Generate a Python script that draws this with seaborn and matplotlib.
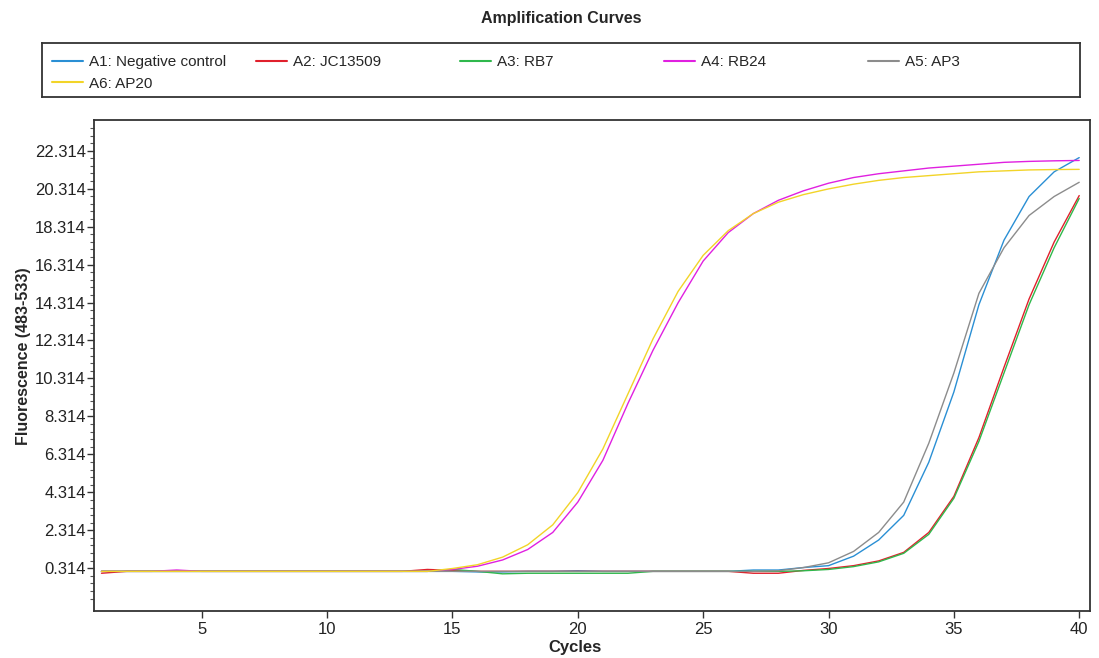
import numpy as np
import pandas as pd
import matplotlib
matplotlib.use("Agg")
import matplotlib.pyplot as plt
from matplotlib.lines import Line2D
from matplotlib.ticker import FixedLocator
import seaborn as sns

# cycles 1..40
cycles = list(range(1, 41))

a1_negative = [0.15, 0.15, 0.15, 0.15, 0.15, 0.15, 0.15, 0.15, 0.15, 0.15,
               0.15, 0.15, 0.15, 0.15, 0.15, 0.12, 0.12, 0.15, 0.15, 0.18,
               0.15, 0.15, 0.15, 0.15, 0.15, 0.15, 0.22, 0.22, 0.35, 0.45,
               0.95, 1.8, 3.1, 5.9, 9.6, 14.2, 17.6, 19.9, 21.2, 21.95]
a2_jc13509 = [0.05, 0.15, 0.15, 0.15, 0.15, 0.15, 0.15, 0.15, 0.15, 0.15,
              0.15, 0.15, 0.15, 0.25, 0.2, 0.15, 0.15, 0.15, 0.15, 0.15,
              0.15, 0.15, 0.15, 0.15, 0.15, 0.15, 0.05, 0.05, 0.2, 0.3,
              0.45, 0.7, 1.15, 2.2, 4.1, 7.2, 10.9, 14.5, 17.5, 19.95]
a3_rb7 = [0.15, 0.15, 0.15, 0.15, 0.15, 0.15, 0.15, 0.15, 0.15, 0.15,
          0.15, 0.15, 0.15, 0.15, 0.25, 0.15, 0.02, 0.05, 0.05, 0.05,
          0.05, 0.05, 0.15, 0.15, 0.15, 0.15, 0.15, 0.15, 0.18, 0.25,
          0.4, 0.65, 1.1, 2.1, 4.0, 7.0, 10.6, 14.2, 17.2, 19.8]
a4_rb24 = [0.15, 0.15, 0.15, 0.22, 0.15, 0.15, 0.15, 0.15, 0.15, 0.15,
           0.15, 0.15, 0.15, 0.15, 0.25, 0.42, 0.75, 1.3, 2.2, 3.8,
           6.0, 9.0, 11.8, 14.3, 16.5, 18.0, 19.0, 19.7, 20.2, 20.6,
           20.9, 21.1, 21.25, 21.4, 21.5, 21.6, 21.7, 21.75, 21.78, 21.8]
a5_ap3 = [0.15, 0.15, 0.15, 0.15, 0.15, 0.15, 0.15, 0.15, 0.15, 0.15,
          0.15, 0.15, 0.15, 0.15, 0.15, 0.15, 0.15, 0.15, 0.15, 0.15,
          0.15, 0.15, 0.15, 0.15, 0.15, 0.15, 0.15, 0.18, 0.35, 0.6,
          1.2, 2.2, 3.8, 6.9, 10.6, 14.8, 17.2, 18.9, 19.9, 20.65]
a6_ap20 = [0.15, 0.15, 0.15, 0.15, 0.15, 0.15, 0.15, 0.15, 0.15, 0.15,
           0.15, 0.15, 0.15, 0.15, 0.3, 0.5, 0.9, 1.55, 2.6, 4.3,
           6.6, 9.5, 12.4, 14.9, 16.8, 18.1, 19.0, 19.6, 20.0, 20.3,
           20.55, 20.75, 20.9, 21.0, 21.1, 21.2, 21.25, 21.3, 21.32, 21.33]

labels = ["A1: Negative control", "A2: JC13509", "A3: RB7",
          "A4: RB24", "A5: AP3", "A6: AP20"]
colors = ["#2a8fd4", "#e0202c", "#2fb84c", "#e020e0", "#8c8c8c", "#f2d428"]
series = [a1_negative, a2_jc13509, a3_rb7, a4_rb24, a5_ap3, a6_ap20]

y_ticks = [0.314 + 2 * i for i in range(12)]
x_ticks = [5, 10, 15, 20, 25, 30, 35, 40]

df = pd.concat([pd.DataFrame({"Cycles": cycles, "Fluorescence": s, "Sample": lab})
                for s, lab in zip(series, labels)], ignore_index=True)

sns.set_style("white")
plt.rcParams["font.family"] = ["Liberation Sans", "DejaVu Sans"]

fig = plt.figure(figsize=(10.99, 6.58), dpi=100)
ax = fig.add_axes([0.0855, 0.0714, 0.9063, 0.7462])

sns.lineplot(data=df, x="Cycles", y="Fluorescence", hue="Sample",
             palette=dict(zip(labels, colors)), hue_order=labels,
             linewidth=1.0, legend=False, ax=ax)

ax.set_xlim(0.7, 40.43)
ax.set_ylim(-1.94, 23.93)
ax.xaxis.set_major_locator(FixedLocator(x_ticks))
ax.yaxis.set_major_locator(FixedLocator(y_ticks))
ax.set_yticklabels([f"{v:.3f}" for v in y_ticks])
ax.yaxis.set_minor_locator(FixedLocator([0.314 + 0.4 * i for i in range(-4, 60)
                                         if 0.314 + 0.4 * i < 23.9]))
ax.tick_params(axis="both", which="major", direction="out", length=5, width=1,
               color="#333333", labelsize=12, labelcolor="#222222", pad=1,
               bottom=True, left=True)
ax.tick_params(axis="x", which="major", pad=3)
ax.tick_params(axis="y", which="minor", direction="out", length=3, width=0.8,
               color="#555555", left=True)
for sp in ax.spines.values():
    sp.set_color("#333333")
    sp.set_linewidth(1.3)

ax.set_xlabel("Cycles", fontsize=12, fontweight="bold", labelpad=0)
ax.xaxis.set_label_coords(0.483, -0.06)
ax.set_ylabel("Fluorescence (483-533)", fontsize=11.5, fontweight="bold", labelpad=6)
ax.yaxis.set_label_coords(-0.063, 0.52)

fig.text(0.511, 0.972, "Amplification Curves", ha="center", va="center",
         fontsize=11.5, fontweight="bold")

# legend box with five evenly spaced columns
lax = fig.add_axes([0.0382, 0.8526, 0.9445, 0.0821])
lax.set_xticks([])
lax.set_yticks([])
for sp in lax.spines.values():
    sp.set_color("#333333")
    sp.set_linewidth(1.3)
handles = [Line2D([], [], color=c, lw=1.5) for c in colors]
columns = [[0, 5], [1], [2], [3], [4]]
legs = []
for i, idx in enumerate(columns):
    leg = lax.legend([handles[j] for j in idx], [labels[j] for j in idx],
                     loc="upper left", bbox_to_anchor=(0.004 + i * 0.1965, 0.89),
                     frameon=False, fontsize=11, handlelength=2.0,
                     handletextpad=0.4, labelspacing=0.5, borderaxespad=0)
    legs.append(leg)
for leg in legs[:-1]:
    lax.add_artist(leg)

fig.savefig("out.png", dpi=100)
